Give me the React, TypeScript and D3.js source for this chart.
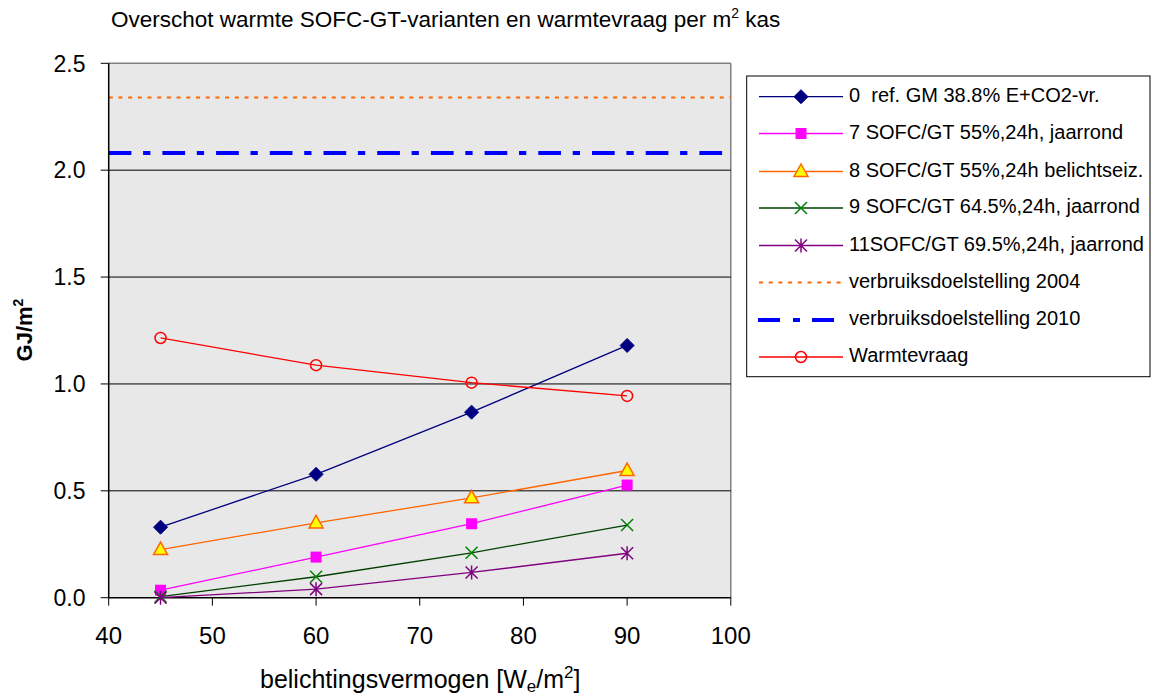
import React from "react";
import * as d3 from "d3";

// Installed lighting power (W/m2)
const xValues = [45, 60, 75, 90];

// Surplus heat per variant (GJ/m2)
const ref0 = [0.33, 0.577, 0.868, 1.18];
const sofc7 = [0.035, 0.19, 0.346, 0.527];
const sofc8 = [0.225, 0.35, 0.467, 0.595];
const sofc9 = [0.005, 0.098, 0.21, 0.34];
const sofc11 = [0.0, 0.04, 0.118, 0.208];
const warmtevraag = [1.215, 1.088, 1.006, 0.944];

// Consumption targets (GJ/m2)
const target2004 = 2.34;
const target2010 = 2.08;

const xTicks = [40, 50, 60, 70, 80, 90, 100];
const yTicks = [0, 0.5, 1.0, 1.5, 2.0, 2.5];

type Marker = "diamond" | "square" | "triangle" | "x" | "star" | "circle";

const seriesList: { name: string; values: number[]; color: string; marker: Marker; fill: string }[] = [
  { name: "0  ref. GM 38.8% E+CO2-vr.", values: ref0, color: "#000080", marker: "diamond", fill: "#000080" },
  { name: "7 SOFC/GT 55%,24h, jaarrond", values: sofc7, color: "#FF00FF", marker: "square", fill: "#FF00FF" },
  { name: "8 SOFC/GT 55%,24h belichtseiz.", values: sofc8, color: "#FF6600", marker: "triangle", fill: "#FFFF00" },
  { name: "9 SOFC/GT 64.5%,24h, jaarrond", values: sofc9, color: "#004000", marker: "x", fill: "none" },
  { name: "11SOFC/GT 69.5%,24h, jaarrond", values: sofc11, color: "#800080", marker: "star", fill: "none" },
];

const FONT = "'Liberation Sans', Arial, sans-serif";

function MarkerShape({ type, cx, cy, color, fill }: { type: Marker; cx: number; cy: number; color: string; fill: string }) {
  switch (type) {
    case "diamond":
      return <path d={`M${cx},${cy - 7} L${cx + 7},${cy} L${cx},${cy + 7} L${cx - 7},${cy} Z`} fill={fill} stroke={color} />;
    case "square":
      return <rect x={cx - 5.5} y={cy - 5.5} width={11} height={11} fill={fill} />;
    case "triangle":
      return <path d={`M${cx},${cy - 7.5} L${cx + 7},${cy + 5} L${cx - 7},${cy + 5} Z`} fill={fill} stroke={color} strokeWidth={1.5} />;
    case "x":
      return (
        <path d={`M${cx - 6},${cy - 6} L${cx + 6},${cy + 6} M${cx - 6},${cy + 6} L${cx + 6},${cy - 6}`} stroke="#008000" strokeWidth={1.5} fill="none" />
      );
    case "star":
      return (
        <path
          d={`M${cx - 6},${cy - 6} L${cx + 6},${cy + 6} M${cx - 6},${cy + 6} L${cx + 6},${cy - 6} M${cx},${cy - 7} L${cx},${cy + 7}`}
          stroke={color}
          strokeWidth={1.5}
          fill="none"
        />
      );
    case "circle":
      return <circle cx={cx} cy={cy} r={5.5} fill="none" stroke={color} strokeWidth={1.5} />;
  }
}

export default function App() {
  const left = 108.7;
  const right = 730.8;
  const top = 63.3;
  const bottom = 597.7;

  const x = d3.scaleLinear().domain([40, 100]).range([left, right]);
  const y = d3.scaleLinear().domain([0, 2.5]).range([bottom, top]);

  const line = d3
    .line<number>()
    .x((_, i) => x(xValues[i]))
    .y((d) => y(d));

  const legendX = 746.7;
  const legendY = 76;
  const legendRows = [96.7, 133.5, 171.5, 208, 245.5, 282.5, 320, 357];
  const legendFont = 20;

  return (
    <svg width={1153} height={698} style={{ position: "absolute", left: 0, top: 0, background: "#fff" }} fontFamily={FONT}>
      {/* title */}
      <text x={111} y={27} fontSize={22.5} fill="#000">
        Overschot warmte SOFC-GT-varianten en warmtevraag per m
        <tspan dy={-9} fontSize={14}>2</tspan>
        <tspan dy={9}> kas</tspan>
      </text>

      {/* plot background */}
      <rect x={left} y={top} width={right - left} height={bottom - top} fill="#E8E8E8" />
      <line x1={left} x2={right} y1={top} y2={top} stroke="#808080" strokeWidth={1.5} />
      <line x1={right} x2={right} y1={top} y2={bottom} stroke="#808080" strokeWidth={1.5} />

      {/* gridlines + y ticks */}
      {yTicks.map((t) => (
        <g key={t}>
          {t > 0 && t < 2.5 && <line x1={left} x2={right} y1={y(t)} y2={y(t)} stroke="#000" strokeWidth={1} />}
          <line x1={left - 8} x2={left} y1={y(t)} y2={y(t)} stroke="#000" strokeWidth={1} />
          <text x={85.5} y={y(t) + 8.3} fontSize={23} textAnchor="end">
            {t.toFixed(1)}
          </text>
        </g>
      ))}

      {/* x ticks */}
      {xTicks.map((t) => (
        <g key={t}>
          <line x1={x(t)} x2={x(t)} y1={bottom} y2={bottom + 8} stroke="#000" strokeWidth={1} />
          <text x={x(t)} y={644} fontSize={24} textAnchor="middle">
            {t}
          </text>
        </g>
      ))}

      {/* target lines */}
      <line x1={left} x2={right} y1={y(target2004)} y2={y(target2004)} stroke="#FF6600" strokeWidth={2} strokeDasharray="4,5.7" />
      <line x1={left} x2={right} y1={y(target2010)} y2={y(target2010)} stroke="#0000FF" strokeWidth={4} strokeDasharray="22.7,11.7,7.3,12" />

      {/* axes */}
      <line x1={left} x2={left} y1={top} y2={bottom} stroke="#000" strokeWidth={1.5} />
      <line x1={left} x2={right} y1={bottom} y2={bottom} stroke="#000" strokeWidth={1.5} />

      {/* data series */}
      {seriesList.map((s) => (
        <g key={s.name}>
          <path d={line(s.values) || ""} fill="none" stroke={s.color} strokeWidth={1.3} />
          {s.values.map((v, i) => (
            <MarkerShape key={i} type={s.marker} cx={x(xValues[i])} cy={y(v)} color={s.color} fill={s.fill} />
          ))}
        </g>
      ))}
      <g>
        <path d={line(warmtevraag) || ""} fill="none" stroke="#FF0000" strokeWidth={1.3} />
        {warmtevraag.map((v, i) => (
          <MarkerShape key={i} type="circle" cx={x(xValues[i])} cy={y(v)} color="#FF0000" fill="none" />
        ))}
      </g>

      {/* axis titles */}
      <text transform="translate(32,330) rotate(-90)" fontSize={22} fontWeight="bold" textAnchor="middle">
        GJ/m
        <tspan dy={-9} fontSize={14}>2</tspan>
      </text>
      <text x={260} y={688} fontSize={25}>
        belichtingsvermogen [W
        <tspan dy={4} fontSize={17}>e</tspan>
        <tspan dy={-4}>/m</tspan>
        <tspan dy={-10} fontSize={17}>2</tspan>
        <tspan dy={10}>]</tspan>
      </text>

      {/* legend */}
      <rect x={legendX} y={legendY} width={1150 - legendX} height={376.7 - legendY} fill="#fff" stroke="#000" strokeWidth={1} />
      {seriesList.map((s, i) => (
        <g key={s.name}>
          <line x1={759} x2={843} y1={legendRows[i]} y2={legendRows[i]} stroke={s.color} strokeWidth={1.3} />
          <MarkerShape type={s.marker} cx={801} cy={legendRows[i]} color={s.color} fill={s.fill} />
          <text x={849} y={legendRows[i] + 5} fontSize={legendFont} style={{ whiteSpace: "pre" }}>
            {s.name}
          </text>
        </g>
      ))}
      <line x1={759} x2={841} y1={legendRows[5]} y2={legendRows[5]} stroke="#FF6600" strokeWidth={2} strokeDasharray="4,5.7" />
      <text x={849} y={legendRows[5] + 5} fontSize={legendFont}>verbruiksdoelstelling 2004</text>
      <line x1={758} x2={835} y1={legendRows[6]} y2={legendRows[6]} stroke="#0000FF" strokeWidth={4} strokeDasharray="22,13,7,12" />
      <text x={849} y={legendRows[6] + 5} fontSize={legendFont}>verbruiksdoelstelling 2010</text>
      <line x1={759} x2={843} y1={legendRows[7]} y2={legendRows[7]} stroke="#FF0000" strokeWidth={1.3} />
      <MarkerShape type="circle" cx={801} cy={legendRows[7]} color="#FF0000" fill="#fff" />
      <text x={849} y={legendRows[7] + 5} fontSize={legendFont}>Warmtevraag</text>
    </svg>
  );
}
